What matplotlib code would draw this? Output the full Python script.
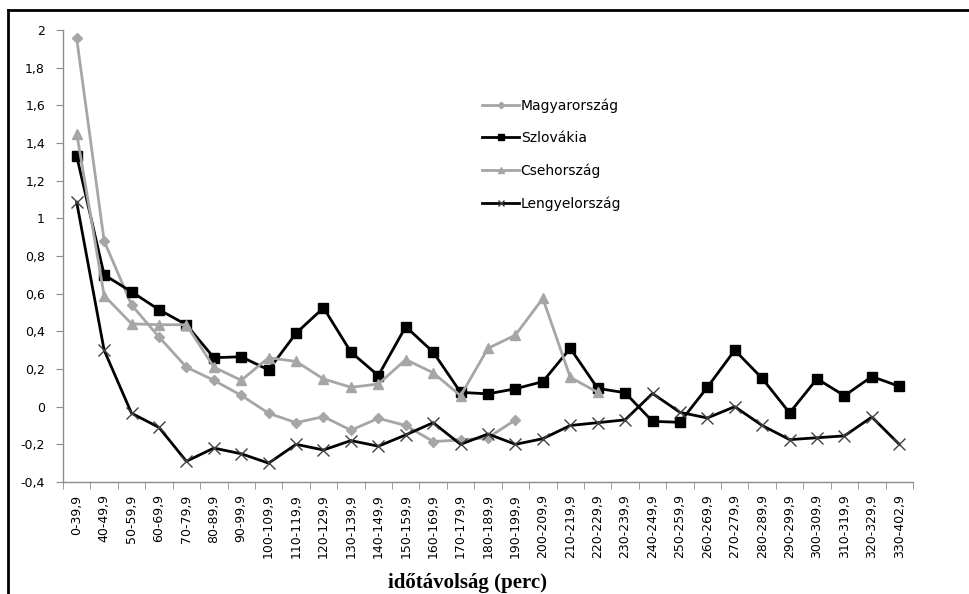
import numpy as np
import matplotlib
matplotlib.use("Agg")
import matplotlib.pyplot as plt
from matplotlib.lines import Line2D
from matplotlib.ticker import FixedLocator

# categories (travel time bands, minutes)
categories = ["0-39,9"] + [f"{a}-{a + 9},9" for a in range(40, 330, 10)] + ["330-402,9"]

magyar = [1.955, 0.88, 0.54, 0.37, 0.21, 0.14, 0.06, -0.035, -0.085, -0.053,
          -0.125, -0.062, -0.10, -0.185, -0.177, -0.165, -0.07]
szlovak = [1.33, 0.70, 0.61, 0.515, 0.435, 0.26, 0.265, 0.195, 0.39, 0.525,
           0.29, 0.165, 0.425, 0.29, 0.076, 0.068, 0.095, 0.133, 0.31, 0.097,
           0.074, -0.078, -0.083, 0.103, 0.30, 0.15, -0.033, 0.148, 0.058, 0.16,
           0.108]
cseh = [1.45, 0.59, 0.44, 0.435, 0.435, 0.21, 0.14, 0.26, 0.24, 0.147,
        0.103, 0.12, 0.25, 0.18, 0.058, 0.31, 0.38, 0.575, 0.156, 0.076]
lengyel = [1.085, 0.30, -0.035, -0.11, -0.29, -0.22, -0.25, -0.30, -0.20, -0.23,
           -0.18, -0.21, -0.15, -0.085, -0.20, -0.145, -0.20, -0.17, -0.10, -0.085,
           -0.07, 0.07, -0.03, -0.06, 0.0, -0.10, -0.175, -0.165, -0.155, -0.055,
           -0.20]

yticks = [-0.4, -0.2, 0, 0.2, 0.4, 0.6, 0.8, 1, 1.2, 1.4, 1.6, 1.8, 2]

gray = "#a6a6a6"
axcol = "#8c8c8c"

plt.rcParams["font.family"] = ["DejaVu Sans"]

fig = plt.figure(figsize=(9.7, 5.94), dpi=100)
ax = fig.add_axes([63 / 970, 1 - 482 / 594, 850 / 970, 452 / 594])

x = np.arange(len(categories))
ax.plot(x[:len(magyar)], magyar, color=gray, lw=2, marker="D", ms=5.5,
        mfc=gray, mec=gray, label="Magyarország")
ax.plot(x[:len(szlovak)], szlovak, color="black", lw=2, marker="s", ms=7.5,
        mfc="black", mec="black", label="Szlovákia")
ax.plot(x[:len(cseh)], cseh, color=gray, lw=2, marker="^", ms=7.5,
        mfc=gray, mec=gray, label="Csehország")
ax.plot(x[:len(lengyel)], lengyel, color="black", lw=2, marker="x", ms=8,
        mec="#404040", mew=1, label="Lengyelország")

ax.set_xlim(-0.5, len(categories) - 0.5)
ax.set_ylim(-0.4, 2)

ax.set_xticks(x)
ax.set_xticklabels(categories, rotation=90, fontsize=9, va="top")
ax.tick_params(axis="x", which="major", length=0, pad=9)
ax.xaxis.set_minor_locator(FixedLocator(np.arange(-0.5, len(categories), 1)))
ax.tick_params(axis="x", which="minor", length=5, color=axcol, direction="out")

ax.set_yticks(yticks)
ax.set_yticklabels([f"{v:g}".replace(".", ",") for v in yticks], fontsize=9)
ax.tick_params(axis="y", length=5, color=axcol, pad=8)

for s in ["top", "right"]:
    ax.spines[s].set_visible(False)
for s in ["left", "bottom"]:
    ax.spines[s].set_color(axcol)
    ax.spines[s].set_linewidth(1)

ax.legend(loc="upper left", bbox_to_anchor=(470 / 970, 1 - 86 / 594),
          bbox_transform=fig.transFigure, frameon=False, fontsize=10,
          handlelength=2.6, handletextpad=0.15, labelspacing=1.32, markerscale=0.6)

fig.text(468 / 970, 1 - 583 / 594, "időtávolság (perc)", ha="center", va="center",
         fontsize=15, fontweight="bold", family=["Liberation Serif", "DejaVu Serif"])

# outer frame (left and top edges visible)
fig.add_artist(Line2D([8 / 970, 8 / 970], [0, 1 - 10 / 594], transform=fig.transFigure,
                      color="black", lw=2))
fig.add_artist(Line2D([8 / 970, 1], [1 - 10 / 594, 1 - 10 / 594], transform=fig.transFigure,
                      color="black", lw=2))

fig.savefig("out.png", dpi=100)
